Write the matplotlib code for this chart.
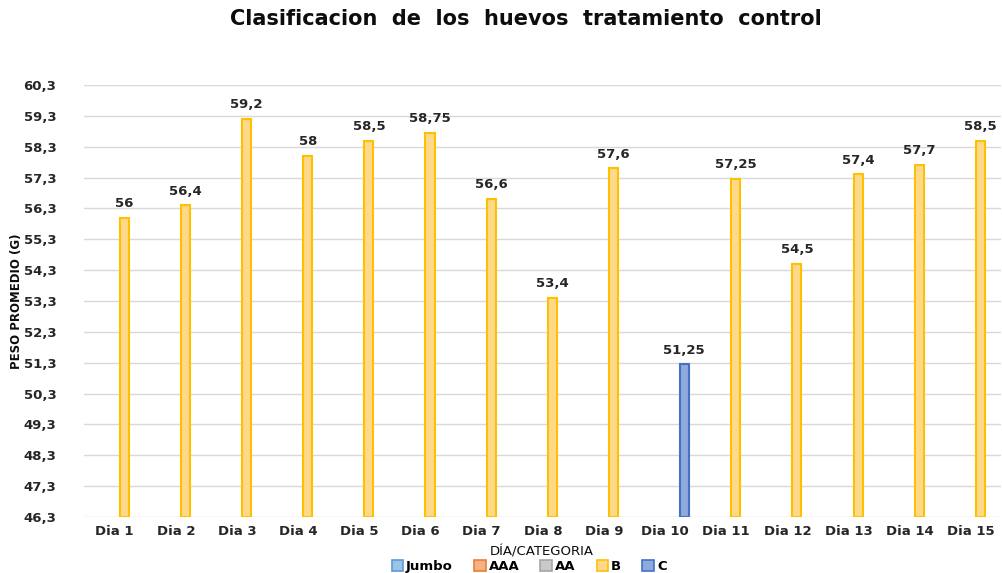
import numpy as np
import matplotlib.pyplot as plt
from matplotlib.patches import Patch

# Datos
dias = ["Dia %d" % i for i in range(1, 16)]
jumbo = [np.nan] * 15
aaa = [np.nan] * 15
aa = [np.nan] * 15
b = [56, 56.4, 59.2, 58, 58.5, 58.75, 56.6, 53.4, 57.6, np.nan, 57.25, 54.5, 57.4, 57.7, 58.5]
c = [np.nan] * 9 + [51.25] + [np.nan] * 5
yticks = [46.3, 47.3, 48.3, 49.3, 50.3, 51.3, 52.3, 53.3, 54.3, 55.3, 56.3, 57.3, 58.3, 59.3, 60.3]

series = ["Jumbo", "AAA", "AA", "B", "C"]
valores = [jumbo, aaa, aa, b, c]
fills = ["#9DC3E6", "#F4B183", "#C9C9C9", "#FFD98B", "#8FAADC"]
edges = ["#5B9BD5", "#ED7D31", "#A5A5A5", "#FFC000", "#4472C4"]

fig = plt.figure(figsize=(10.02, 5.73), dpi=100)
ax = fig.add_axes([0.084, 0.0977, 0.9155, 0.7540])

x = np.arange(len(dias))
w = 0.155
for i, (name, vals) in enumerate(zip(series, valores)):
    pos = x + (i - 2) * w
    vals = np.array(vals, dtype=float)
    ax.bar(pos, vals - yticks[0], bottom=yticks[0], width=w * 0.95,
           color=fills[i], edgecolor=edges[i], linewidth=1.5, zorder=3)
    for p, v in zip(pos, vals):
        if not np.isnan(v):
            txt = ("%g" % v).replace(".", ",")
            ax.text(p, v + 0.25, txt, ha="center", va="bottom",
                    fontsize=9.5, fontweight="bold", color="#262626")

ax.set_xlim(-0.5, 14.5)
ax.set_ylim(yticks[0], yticks[-1])
ax.set_yticks(yticks)
ax.set_yticklabels([("%.1f" % t).replace(".", ",") for t in yticks],
                   fontsize=9.5, fontweight="bold", color="#262626")
ax.set_xticks(x)
ax.set_xticklabels(dias, fontsize=9.5, fontweight="bold", color="#262626")
ax.tick_params(axis="y", length=0, pad=20)
ax.tick_params(axis="x", length=0, pad=6)
ax.grid(axis="y", color="#D9D9D9", linewidth=1, zorder=0)
for s in ax.spines.values():
    s.set_visible(False)

fig.text(0.525, 0.967, "Clasificacion  de  los  huevos  tratamiento  control",
         ha="center", va="center", fontsize=15, fontweight="bold", color="#0D0D0D")
fig.text(0.016, 0.475, "PESO PROMEDIO (G)", rotation=90, ha="center", va="center",
         fontsize=8.5, fontweight="bold", color="#0D0D0D",
         family=["Liberation Sans Narrow", "DejaVu Sans"])
fig.text(0.541, 0.037, "DÍA/CATEGORIA", ha="center", va="center",
         fontsize=9.5, color="#0D0D0D")

handles = [Patch(facecolor=f, edgecolor=e, linewidth=1.2) for f, e in zip(fills, edges)]
leg = fig.legend(handles, series, loc="center", bbox_to_anchor=(0.528, 0.012), ncol=5,
                 frameon=False, handlelength=0.9, handleheight=0.9, handletextpad=0.2,
                 columnspacing=1.6, prop={"size": 9.5, "weight": "bold"})

plt.savefig("out.png", dpi=100)
